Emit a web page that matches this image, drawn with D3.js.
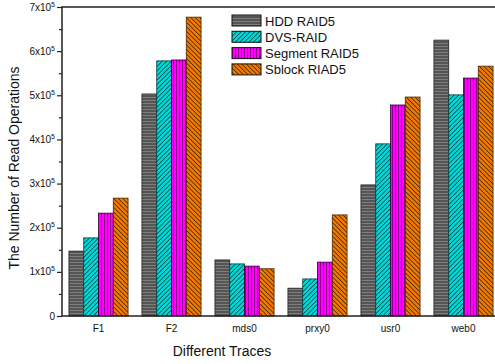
<!DOCTYPE html>
<html>
<head>
<meta charset="utf-8">
<script src="https://cdn.jsdelivr.net/npm/d3@7"></script>
<style>
  body { margin: 0; background: #fff; }
  text { font-family: Arial, "Liberation Sans", sans-serif; }
</style>
</head>
<body>
<svg id="chart" width="495" height="364"></svg>
<script>
const traces = ['F1', 'F2', 'mds0', 'prxy0', 'usr0', 'web0'];
const seriesNames = ['HDD RAID5', 'DVS-RAID', 'Segment RAID5', 'Sblock RIAD5'];
const hddRaid5 = [147000, 503000, 127000, 63000, 297000, 625000];
const dvsRaid = [177000, 578000, 118000, 84000, 390000, 501000];
const segmentRaid5 = [233000, 580000, 113000, 122000, 478000, 539000];
const sblockRiad5 = [267000, 677000, 107000, 229000, 496000, 566000];
const yTicks = [0, 1, 2, 3, 4, 5, 6, 7];

const svg = d3.select('#chart'),
    margin = {top: 7, right: -5, bottom: 48, left: 62},
    width = 495 - margin.left - margin.right,
    height = 364 - margin.top - margin.bottom;

const defs = svg.append('defs');

// hatch patterns
const pat = (id, bg, fg, angle, gap, sw) => {
  const p = defs.append('pattern')
    .attr('id', id)
    .attr('patternUnits', 'userSpaceOnUse')
    .attr('width', gap).attr('height', gap)
    .attr('patternTransform', `rotate(${angle})`);
  p.append('rect').attr('width', gap).attr('height', gap).attr('fill', bg);
  p.append('line').attr('x1', 0).attr('y1', 0).attr('x2', 0).attr('y2', gap)
    .attr('stroke', fg).attr('stroke-width', sw);
};
pat('p0', '#555555', '#9a9a9a', 90, 3, 1.2);
pat('p1', '#00d8d8', '#0a2a2a', 45, 3.2, 1.3);
pat('p2', '#ff00ff', '#200020', 0, 3, 1.1);
pat('p3', '#ee7a00', '#2a1500', -45, 3.2, 1.3);

const strokes = ['#222', '#0a4040', '#300030', '#4a2500'];
const series = [hddRaid5, dvsRaid, segmentRaid5, sblockRiad5];

const g = svg.append('g').attr('transform', `translate(${margin.left},${margin.top})`);

const x0 = d3.scaleBand().domain(traces).range([0, width]).paddingInner(0.19).paddingOuter(0.095);
const x1 = d3.scaleBand().domain(d3.range(4)).range([0, x0.bandwidth()]);
const y = d3.scaleLinear().domain([0, 700000]).range([height, 0]);

// bars
traces.forEach((t, i) => {
  series.forEach((s, k) => {
    g.append('rect')
      .attr('x', x0(t) + x1(k))
      .attr('y', y(s[i]))
      .attr('width', x1.bandwidth())
      .attr('height', height - y(s[i]))
      .attr('fill', `url(#p${k})`)
      .attr('stroke', strokes[k])
      .attr('stroke-width', 0.8);
  });
});

// frame
g.append('rect').attr('width', width).attr('height', height)
  .attr('fill', 'none').attr('stroke', '#222').attr('stroke-width', 1.5);

// y axis
const yAxis = g.append('g')
  .call(d3.axisLeft(y).tickValues(yTicks.map(d => d * 100000)).tickSize(5).tickFormat(''));
yAxis.select('.domain').remove();
yAxis.selectAll('line').attr('stroke', '#222').attr('stroke-width', 1.2);
g.append('g')
  .call(d3.axisLeft(y).tickValues(yTicks.slice(0, -1).map(d => d * 100000 + 50000)).tickSize(3).tickFormat(''))
  .call(a => a.select('.domain').remove())
  .selectAll('line').attr('stroke', '#222').attr('stroke-width', 1.2);

yTicks.forEach(d => {
  const t = g.append('text')
    .attr('x', -7).attr('y', y(d * 100000) + 3.5)
    .attr('text-anchor', 'end')
    .attr('font-size', 10).attr('fill', '#111');
  if (d === 0) { t.text('0'); return; }
  t.append('tspan').text(`${d}x10`);
  t.append('tspan').attr('font-size', 7).attr('dy', -4).text('5');
});

// x axis labels
g.append('g')
  .attr('transform', `translate(0,${height})`)
  .call(d3.axisBottom(x0).tickSize(0).tickPadding(9))
  .call(a => a.select('.domain').remove())
  .selectAll('text').attr('font-size', 10).attr('fill', '#111')
  .style('font-family', 'Arial, "Liberation Sans", sans-serif');

svg.append('text')
  .attr('x', 222).attr('y', 356)
  .attr('text-anchor', 'middle').attr('font-size', 14).attr('fill', '#111')
  .text('Different Traces');

svg.append('text')
  .attr('transform', 'translate(19,168) rotate(-90)')
  .attr('text-anchor', 'middle').attr('font-size', 14).attr('fill', '#111')
  .text('The Number of Read Operations');

// legend
const legend = svg.append('g').attr('transform', 'translate(232,15)');
seriesNames.forEach((n, k) => {
  const row = legend.append('g').attr('transform', `translate(0,${k * 16.3})`);
  row.append('rect').attr('width', 29).attr('height', 11)
    .attr('fill', `url(#p${k})`).attr('stroke', '#111').attr('stroke-width', 1);
  row.append('text').attr('x', 33).attr('y', 10.5)
    .attr('font-size', 13).attr('fill', '#111').text(n);
});
</script>
</body>
</html>
